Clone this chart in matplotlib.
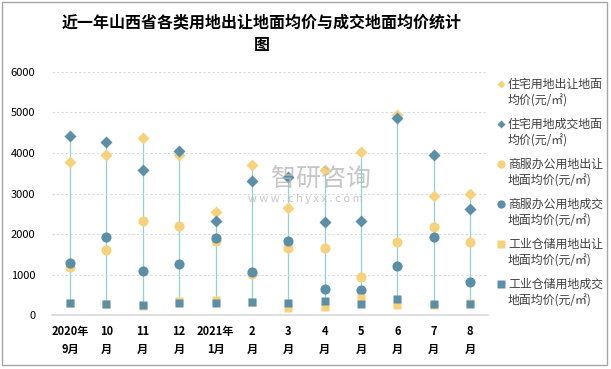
import matplotlib.pyplot as plt
import numpy as np
from matplotlib.patches import Rectangle
from matplotlib.lines import Line2D

plt.rcParams['font.family'] = ['Noto Sans CJK SC', 'DejaVu Sans']

# 月份
months = ['2020年\n9月', '10\n月', '11\n月', '12\n月', '2021年\n1月', '2\n月',
          '3\n月', '4\n月', '5\n月', '6\n月', '7\n月', '8\n月']

# 地面均价 (元/㎡)
zz_cr = [3766, 3939, 4359, 3939, 2538, 3716, 2653, 3584, 4013, 4944, 2942, 2999]   # 住宅用地出让
zz_cj = [4408, 4260, 3584, 4038, 2332, 3321, 3420, 2307, 2332, 4862, 3963, 2629]   # 住宅用地成交
sf_cr = [1178, 1599, 2324, 2192, 1829, 1013, 1664, 1648, 931, 1796, 2167, 1796]    # 商服办公用地出让
sf_cj = [1277, 1920, 1079, 1252, 1895, 1055, 1821, 634, 610, 1203, 1920, 808]      # 商服办公用地成交
gy_cr = [290, 270, 230, 354, 362, 320, 165, 206, 412, 247, 250, 290]               # 工业仓储用地出让
gy_cj = [305, 280, 255, 288, 305, 330, 305, 354, 264, 404, 280, 264]               # 工业仓储用地成交

labels = ['住宅用地出让地面\n均价(元/㎡)', '住宅用地成交地面\n均价(元/㎡)',
          '商服办公用地出让\n地面均价(元/㎡)', '商服办公用地成交\n地面均价(元/㎡)',
          '工业仓储用地出让\n地面均价(元/㎡)', '工业仓储用地成交\n地面均价(元/㎡)']

yellow = '#f7d27c'
blue = '#5b8fa8'

fig = plt.figure(figsize=(6.11, 3.69), dpi=100)
ax = fig.add_axes([0.085, 0.146, 0.714, 0.659])

x = np.arange(len(months))
allv = np.array([zz_cr, zz_cj, sf_cr, sf_cj, gy_cr, gy_cj])
#高低线
ax.vlines(x, allv.min(axis=0), allv.max(axis=0), color='#8fd3d1', lw=0.9, zorder=1)

ax.plot(x, zz_cr, 'D', color=yellow, ms=6.3, mec='none', zorder=3)
ax.plot(x, zz_cj, 'D', color=blue, ms=6.3, mec='none', zorder=3)
ax.plot(x, sf_cr, 'o', color=yellow, ms=7.3, mec='none', zorder=3)
ax.plot(x, sf_cj, 'o', color=blue, ms=7.3, mec='none', zorder=3)
ax.plot(x, gy_cr, 's', color=yellow, ms=6, mec='none', zorder=3)
ax.plot(x, gy_cj, 's', color=blue, ms=6, mec='none', zorder=3)

ax.set_xlim(-0.5, 11.5)
ax.set_ylim(0, 6000)
ax.set_yticks(np.arange(0, 6001, 1000))
ax.set_xticks(x)
ax.set_xticklabels(months, fontsize=8, fontweight='bold', linespacing=1.5)
ax.tick_params(axis='y', labelsize=8, length=0, pad=12)
ax.tick_params(axis='x', length=0, pad=7)
ax.grid(axis='y', color='#d9d9d9', ls=(0, (2, 2)), lw=0.8)
for s in ['top', 'right', 'left']:
    ax.spines[s].set_visible(False)
ax.spines['bottom'].set_color('#d9d9d9')
ax.spines['bottom'].set_linewidth(1.2)

# 图例 (手动画, 标记对齐第一行)
leg_marks = [('D', yellow, 4), ('D', blue, 4), ('o', yellow, 6),
             ('o', blue, 6), ('s', yellow, 6), ('s', blue, 6)]
W, H = 611.0, 369.0
for i, (lab, (m, c, ms)) in enumerate(zip(labels, leg_marks)):
    yp = 84 + 40 * i
    fig.add_artist(Line2D([501 / W], [1 - yp / H], transform=fig.transFigure,
                          ls='none', marker=m, color=c, ms=ms, mec='none'))
    l1, l2 = lab.split('\n')
    fig.text(508 / W, 1 - yp / H, l1, fontsize=8.6, va='center', ha='left', color='#404040')
    fig.text(508 / W, 1 - (yp + 17) / H, l2, fontsize=8.6, va='center', ha='left', color='#404040')

fig.suptitle('近一年山西省各类用地出让地面均价与成交地面均价统计\n图', x=0.428, y=0.96,
             fontsize=11.5, fontweight='bold', linespacing=1.45)

# 水印
fig.text(0.526, 0.516, '智研咨询', fontsize=18, color='#b8b8b8', alpha=0.8,
         ha='center', va='center')
fig.text(0.5, 0.462, 'w w w . c h y x x . c o m', fontsize=8, color='#b8b8b8',
         alpha=0.8, ha='center', va='center')

fig.patches.append(Rectangle((0.004, 0.012), 0.99, 0.982, transform=fig.transFigure,
                             fill=False, edgecolor='#a6a6a6', lw=1))

plt.savefig('out.png', dpi=100)
